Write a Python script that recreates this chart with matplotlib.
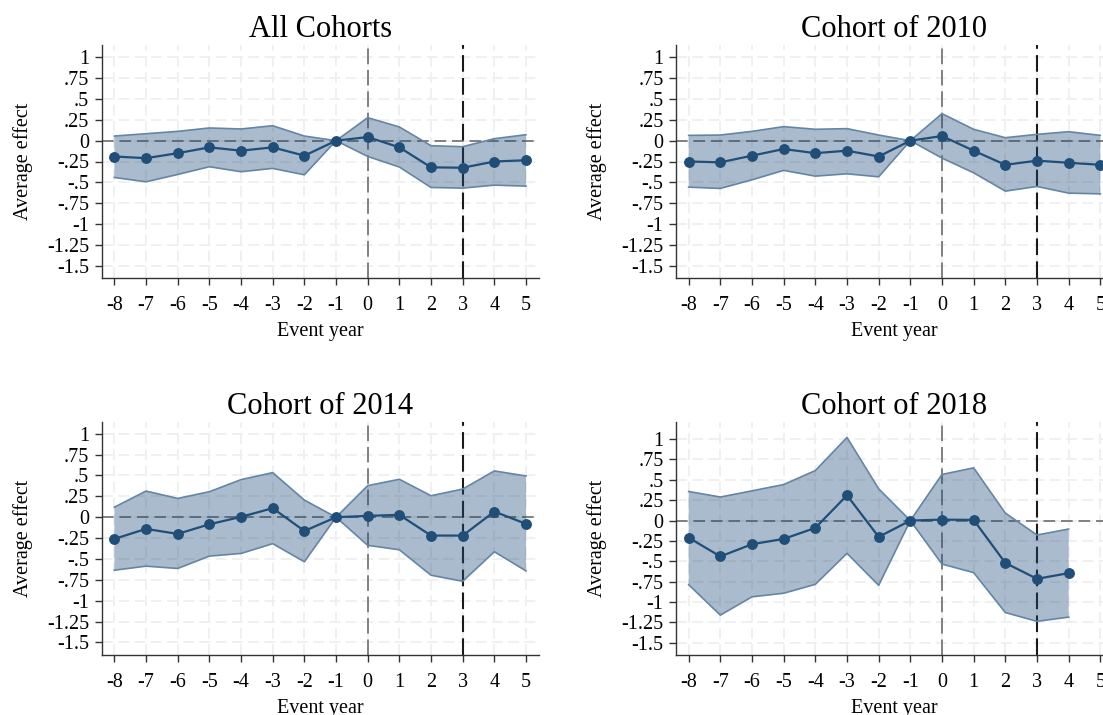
# -*- coding: utf-8 -*-

import matplotlib as mpl
mpl.use("Agg")
import matplotlib.pyplot as plt
import numpy as np

plt.rcParams['font.family'] = ['Liberation Serif', 'DejaVu Serif']
plt.rcParams['axes.unicode_minus'] = False

# event years
years = [-8, -7, -6, -5, -4, -3, -2, -1, 0, 1, 2, 3, 4, 5]

titles = ['All Cohorts', 'Cohort of 2010', 'Cohort of 2014', 'Cohort of 2018']

# point estimates
est_all = [-0.19, -0.21, -0.15, -0.08, -0.12, -0.08, -0.18, 0.0, 0.044, -0.08, -0.32, -0.325, -0.25, -0.235]
est_2010 = [-0.25, -0.26, -0.18, -0.10, -0.15, -0.12, -0.19, 0.0, 0.056, -0.12, -0.29, -0.24, -0.265, -0.29]
est_2014 = [-0.26, -0.14, -0.20, -0.085, 0.004, 0.108, -0.165, 0.0, 0.016, 0.028, -0.22, -0.22, 0.068, -0.08]
est_2018 = [-0.21, -0.44, -0.29, -0.225, -0.09, 0.31, -0.20, 0.0, 0.012, 0.008, -0.52, -0.715, -0.645]

# upper bounds
up_all = [0.056, 0.084, 0.112, 0.153, 0.141, 0.18, 0.056, 0.0, 0.277, 0.165, -0.06, -0.072, 0.024, 0.072]
up_2010 = [0.064, 0.068, 0.112, 0.169, 0.137, 0.145, 0.068, 0.0, 0.325, 0.137, 0.036, 0.076, 0.108, 0.064]
up_2014 = [0.12, 0.313, 0.225, 0.305, 0.45, 0.534, 0.205, 0.0, 0.378, 0.454, 0.257, 0.337, 0.554, 0.494]
up_2018 = [0.357, 0.289, 0.365, 0.442, 0.614, 1.02, 0.39, 0.0, 0.566, 0.647, 0.092, -0.177, -0.104]

# lower bounds
lo_all = [-0.442, -0.494, -0.406, -0.313, -0.373, -0.333, -0.41, 0.0, -0.189, -0.317, -0.562, -0.57, -0.534, -0.546]
lo_2010 = [-0.558, -0.574, -0.47, -0.357, -0.426, -0.398, -0.434, 0.0, -0.209, -0.386, -0.606, -0.55, -0.63, -0.639]
lo_2014 = [-0.635, -0.586, -0.614, -0.466, -0.434, -0.317, -0.534, 0.0, -0.337, -0.39, -0.695, -0.767, -0.414, -0.643]
lo_2018 = [-0.787, -1.161, -0.936, -0.892, -0.783, -0.402, -0.795, 0.0, -0.534, -0.639, -1.129, -1.237, -1.185]

ytick_vals = [1, 0.75, 0.5, 0.25, 0, -0.25, -0.5, -0.75, -1, -1.25, -1.5]
ytick_labs = ['1', '.75', '.5', '.25', '0', '-.25', '-.5', '-.75', '-1', '-1.25', '-1.5']

NAVY = '#1f4e79'


def plot_panel(ax, title, est, up, lo, ylim):
    n = len(est)
    x = np.array(years[:n])

    # grid
    for xv in years:
        ax.axvline(xv, color = '#efefef', lw = 1.3, ls = (0, (6, 3)), zorder = 0)
    for yv in ytick_vals:
        ax.axhline(yv, color = '#efefef', lw = 1.3, ls = (0, (6, 3)), zorder = 0)

    # reference lines
    ax.axhline(0, color = '#808080', lw = 1.4, ls = (0, (6, 3)), zorder = 1)
    ax.axvline(0, color = '#808080', lw = 1.4, ls = (0, (8, 3)), zorder = 1)
    ax.axvline(3, color = '#1a1a1a', lw = 1.5, ls = (0, (8, 3)), zorder = 1)

    ax.fill_between(x, lo, up, facecolor = NAVY, alpha = 0.38, lw = 0, zorder = 2)
    ax.plot(x, up, color = '#6585a5', lw = 1.2, zorder = 3)
    ax.plot(x, lo, color = '#6585a5', lw = 1.2, zorder = 3)
    ax.plot(x, est, color = NAVY, lw = 1.6, marker = 'o', ms = 6.8, zorder = 4)

    ax.set_xlim(-8.4, 5.4)
    ax.set_ylim(ylim)
    ax.set_xticks(years)
    ax.set_xticklabels([str(v) for v in years])
    ax.set_yticks(ytick_vals)
    ax.set_yticklabels(ytick_labs)
    ax.tick_params(direction = 'out', length = 5, width = 1, color = '#333333', labelsize = 14.5)
    ax.tick_params(axis = 'x', pad = 8)
    ax.tick_params(axis = 'y', pad = 4)
    for s in ['top', 'right']:
        ax.spines[s].set_visible(False)
    for s in ['left', 'bottom']:
        ax.spines[s].set_color('#333333')
        ax.spines[s].set_linewidth(1)
    ax.set_title(title, fontsize = 22, pad = 6)
    ax.set_xlabel('Event year', fontsize = 14.5, labelpad = 5)
    ax.set_ylabel('Average effect', fontsize = 14.5, labelpad = 10)


fig = plt.figure(figsize = (11.03, 7.15), dpi = 100)
W, H = 1103., 715.
aw, ah = 437., 233.
# left, top in pixels (the right panels run past the right edge, as in the original crop)
pos = [(101.7, 45), (676, 45), (101.7, 422), (676, 422)]
data = [(est_all, up_all, lo_all), (est_2010, up_2010, lo_2010),
        (est_2014, up_2014, lo_2014), (est_2018, up_2018, lo_2018)]
ylims = [(-1.65, 1.15), (-1.65, 1.15), (-1.65, 1.14), (-1.65, 1.21)]

for i in range(4):
    l, t = pos[i]
    ax = fig.add_axes([l / W, (H - t - ah) / H, aw / W, ah / H])
    est, up, lo = data[i]
    plot_panel(ax, titles[i], est, up, lo, ylims[i])

plt.savefig('out.png', dpi = 100)
